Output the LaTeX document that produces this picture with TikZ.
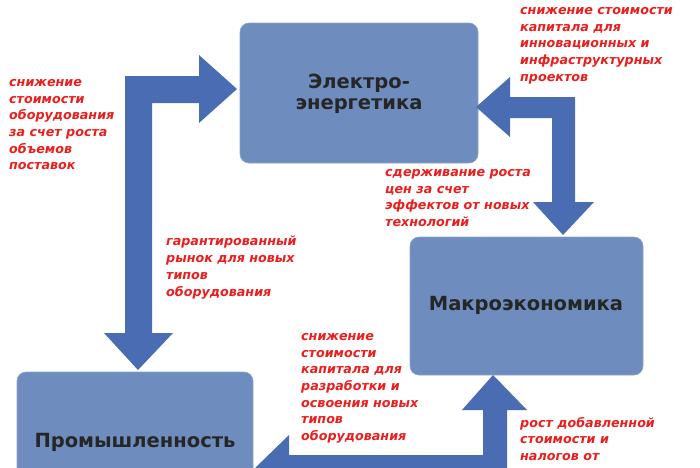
\documentclass[tikz,border=0pt]{standalone}
\usepackage{fontspec}
\setmainfont{DejaVu Sans}
\begin{document}
\begin{tikzpicture}[x=1pt,y=-1pt,
  box/.style={fill=boxc,rounded corners=9pt,draw=boxc!80!white,line width=0.6pt},
  ttl/.style={font=\fontsize{19.5}{21}\selectfont\bfseries,text=black!85,align=center},
  lbl/.style={font=\fontsize{12.7}{16.7}\selectfont\bfseries\itshape,text=redc,align=left,anchor=north west,inner sep=0pt},
  arr/.style={fill=arrc,draw=none}]
\definecolor{boxc}{RGB}{110,140,190}
\definecolor{arrc}{RGB}{74,108,178}
\definecolor{redc}{RGB}{235,30,30}
\useasboundingbox (0,0) rectangle (700,467);
\clip (0,0) rectangle (700,467);
\draw[box] (240,23) rectangle (478,163);
\node[ttl] (el) at (359,94) {Электро-\\энергетика};
\draw[box] (410,237) rectangle (643,375);
\node[ttl] (ma) at (526,305) {Макроэкономика};
\draw[box] (17,372) rectangle (253,500);
\node[ttl] (pr) at (135,442) {Промышленность};
% left double arrow
\fill[arr] (125,333)--(125,76)--(199,76)--(199,55)--(237,89)--(199,123)--(199,103)--(152,103)--(152,333)--(173,333)--(138,370)--(104,333)--cycle;
% right arrow
\fill[arr] (476,107)--(510,77)--(510,97)--(575,97)--(575,202)--(594,202)--(563,235)--(533,202)--(552,202)--(552,118)--(510,118)--(510,137)--cycle;
% bottom arrow
\fill[arr] (253,470)--(289,435)--(289,455)--(483,455)--(483,410)--(462,410)--(493,375)--(527,410)--(507,410)--(507,480)--(253,480)--cycle;
\node[lbl] (l1) at (9,79) {снижение\\стоимости\\оборудования\\за счет роста\\объемов\\поставок};
\node[lbl] (l2) at (520,7) {снижение стоимости\\капитала для\\инновационных и\\инфраструктурных\\проектов};
\node[lbl] (l3) at (385,169) {сдерживание роста\\цен за счет\\эффектов от новых\\технологий};
\node[lbl] (l4) at (166,236) {гарантированный\\рынок для новых\\типов\\оборудования};
\node[lbl] (l5) at (301,333) {снижение\\стоимости\\капитала для\\разработки и\\освоения новых\\типов\\оборудования};
\node[lbl] (l6) at (520,417) {рост добавленной\\стоимости и\\налогов от};
\end{tikzpicture}
\end{document}
